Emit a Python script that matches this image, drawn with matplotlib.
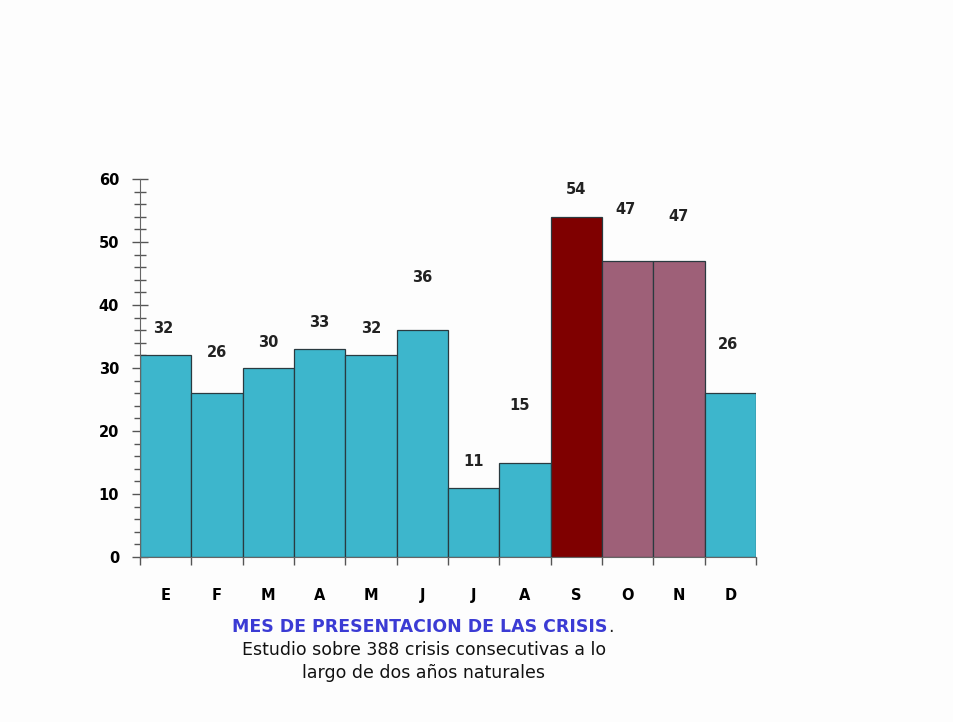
import numpy as np
import matplotlib.pyplot as plt
from matplotlib.ticker import MultipleLocator

plt.rcParams["font.family"] = ["DejaVu Sans"]

months = ["E", "F", "M", "A", "M", "J", "J", "A", "S", "O", "N", "D"]
crisis = [32, 26, 30, 33, 32, 36, 11, 15, 54, 47, 47, 26]
bar_colors = ["#3db6cc"] * 8 + ["#7f0000", "#9e6078", "#9e6078", "#3db6cc"]
# where each value label sits above its bar (data units), as in the original
label_lift = [4.3, 6.5, 4.1, 4.3, 4.3, 8.4, 4.1, 9.0, 4.3, 8.1, 7.1, 7.8]
label_shift = [-0.05, 0.0, 0.0, 0.0, 0.0, 0.0, 0.0, -0.1, 0.0, -0.04, 0.0, -0.04]

BG = "#fdfdfd"
fig = plt.figure(figsize=(9.54, 7.22), dpi=100, facecolor=BG)
ax = fig.add_axes([140 / 954, 165 / 722, 616 / 954, 378 / 722], facecolor=BG)

x = np.arange(len(months))
ax.bar(x, crisis, width=1.0, color=bar_colors, edgecolor="#2a3a40", linewidth=0.9, zorder=2)
for xi, v, lift, sh in zip(x, crisis, label_lift, label_shift):
    ax.text(xi + sh, v + lift, str(v), ha="center", va="center",
            fontsize=10.5, fontweight="bold", color="#222222")

ax.set_xlim(-0.5, len(months) - 0.5)
ax.set_ylim(0, 60)
for s in ("top", "right"):
    ax.spines[s].set_visible(False)
ax.spines["left"].set_color("#666666")
ax.spines["bottom"].set_color("#666666")

ax.yaxis.set_major_locator(MultipleLocator(10))
ax.yaxis.set_minor_locator(MultipleLocator(2))
ax.tick_params(axis="y", which="major", direction="inout", length=12, width=1,
               color="#555555", labelsize=10.5, pad=9)
ax.tick_params(axis="y", which="minor", direction="inout", length=8, width=1, color="#555555")
for lab in ax.get_yticklabels():
    lab.set_fontweight("bold")

ax.set_xticks(np.arange(len(months) + 1) - 0.5)
ax.set_xticklabels([])
ax.tick_params(axis="x", which="major", direction="out", length=6, width=1, color="#555555")
ax.set_xticks(x, months, minor=True)
ax.tick_params(axis="x", which="minor", length=0, pad=22, labelsize=10.5)
for lab in ax.get_xticklabels(minor=True):
    lab.set_fontweight("bold")

t = fig.text(420 / 954, 1 - 627 / 722, "MES DE PRESENTACION DE LAS CRISIS", ha="center",
             va="center", fontsize=12.5, fontweight="bold", color="#3b3bd4")
plt.annotate(".", xy=(1, 0.5), xycoords=t, va="center", ha="left", fontsize=12.5, color="#222222")
fig.text(424 / 954, 1 - 650 / 722, "Estudio sobre 388 crisis consecutivas a lo", ha="center",
         va="center", fontsize=12.5, color="#111111")
fig.text(424 / 954, 1 - 673 / 722, "largo de dos años naturales", ha="center",
         va="center", fontsize=12.5, color="#111111")

fig.savefig("out.png", dpi=100, facecolor=BG)
